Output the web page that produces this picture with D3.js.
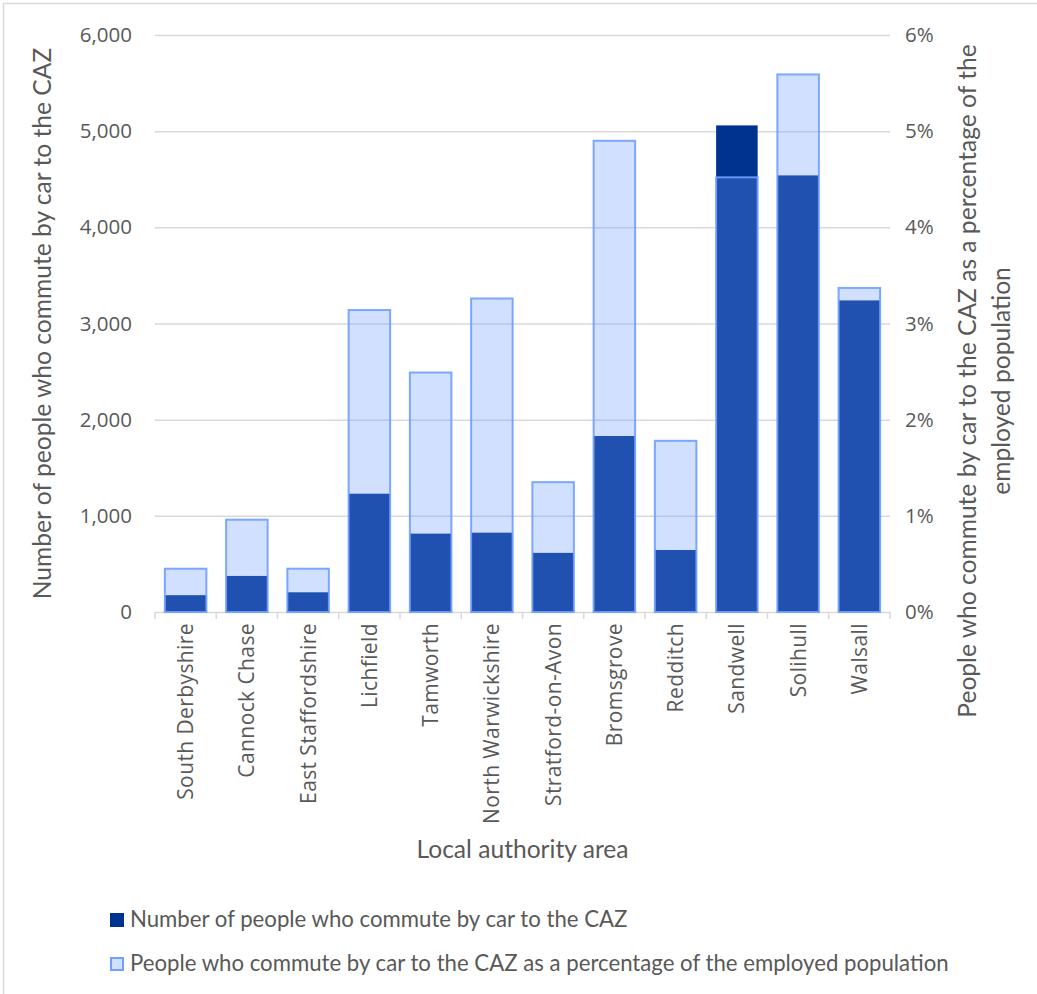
<!DOCTYPE html>
<html>
<head>
<meta charset="utf-8">
<script src="https://cdn.jsdelivr.net/npm/d3@7/dist/d3.min.js"></script>
<style>
  html, body { margin: 0; padding: 0; background: #fff; }
  svg { display: block; }
</style>
</head>
<body>
<svg id="chart" width="1037" height="994"></svg>
<script>
// Local authority areas (x categories)
const categories = [
  "South Derbyshire", "Cannock Chase", "East Staffordshire", "Lichfield",
  "Tamworth", "North Warwickshire", "Stratford-on-Avon", "Bromsgrove",
  "Redditch", "Sandwell", "Solihull", "Walsall"
];
// Number of people who commute by car to the CAZ (left axis)
const commuters = [175, 375, 205, 1230, 815, 825, 615, 1830, 645, 5060, 4540, 3240];
// Share of the employed population commuting by car to the CAZ (right axis)
const shareOfEmployed = [0.0045, 0.0096, 0.0045, 0.0314, 0.0249, 0.0326, 0.0135, 0.0490, 0.0178, 0.0452, 0.0559, 0.0337];
// Axis ticks
const leftTicks = [0, 1000, 2000, 3000, 4000, 5000, 6000];
const rightTicks = [0, 0.01, 0.02, 0.03, 0.04, 0.05, 0.06];

const seriesNames = [
  "Number of people who commute by car to the CAZ",
  "People who commute by car to the CAZ as a percentage of the employed population"
];

const svg = d3.select("#chart");
const textColor = "#595959";
const gridColor = "#d9d9d9";
const navy = "#00338f";
const lightFill = "rgb(105,152,255)";
const lightStroke = "#6f9fff";
const tickFont = "Open Sans";
const tickSize = 20.5;
const titleFont = "Lato";

const plot = { left: 155, right: 890, top: 35, bottom: 612 };

// chart frame
svg.append("rect")
  .attr("x", 3.5).attr("y", 3.5)
  .attr("width", 1200).attr("height", 1200)
  .attr("fill", "none").attr("stroke", gridColor).attr("stroke-width", 1.5);

const x = d3.scaleBand()
  .domain(categories)
  .range([plot.left, plot.right])
  .paddingInner(0.322)
  .paddingOuter(0.161);

const yLeft = d3.scaleLinear().domain([0, 6000]).range([plot.bottom, plot.top]);
const yRight = d3.scaleLinear().domain([0, 0.06]).range([plot.bottom, plot.top]);

// horizontal gridlines
svg.append("g")
  .selectAll("line")
  .data(leftTicks.filter(d => d > 0))
  .join("line")
  .attr("x1", plot.left).attr("x2", plot.right)
  .attr("y1", d => yLeft(d) + 0.5).attr("y2", d => yLeft(d) + 0.5)
  .attr("stroke", gridColor).attr("stroke-width", 1.5);

// left axis labels
const leftAxis = d3.axisLeft(yLeft)
  .tickValues(leftTicks)
  .tickSize(0)
  .tickPadding(23)
  .tickFormat(d3.format(","));
svg.append("g")
  .attr("transform", `translate(${plot.left},0)`)
  .call(leftAxis)
  .attr("font-family", tickFont)
  .attr("font-size", tickSize)
  .call(g => g.select(".domain").remove())
  .call(g => g.selectAll("text").attr("fill", textColor));

// right axis labels
const rightAxis = d3.axisRight(yRight)
  .tickValues(rightTicks)
  .tickSize(0)
  .tickPadding(15)
  .tickFormat(d3.format(".0%"));
svg.append("g")
  .attr("transform", `translate(${plot.right},0)`)
  .call(rightAxis)
  .attr("font-family", tickFont)
  .attr("font-size", tickSize)
  .call(g => g.select(".domain").remove())
  .call(g => g.selectAll("text").attr("fill", textColor));

// x axis: baseline with boundary ticks between categories
const xAxisG = svg.append("g");
xAxisG.append("line")
  .attr("x1", plot.left).attr("x2", plot.right)
  .attr("y1", plot.bottom + 0.5).attr("y2", plot.bottom + 0.5)
  .attr("stroke", gridColor).attr("stroke-width", 1.5);
const boundaries = d3.range(categories.length + 1).map(i => plot.left + i * x.step());
xAxisG.selectAll("line.tick")
  .data(boundaries)
  .join("line")
  .attr("class", "tick")
  .attr("x1", d => d).attr("x2", d => d)
  .attr("y1", plot.bottom).attr("y2", plot.bottom + 7)
  .attr("stroke", gridColor).attr("stroke-width", 1.5);
xAxisG.selectAll("text")
  .data(categories)
  .join("text")
  .attr("transform", d => `translate(${x(d) + x.bandwidth() / 2 + 7.5},${plot.bottom + 11}) rotate(-90)`)
  .attr("text-anchor", "end")
  .attr("fill", textColor)
  .attr("font-family", tickFont)
  .attr("font-size", 21)
  .attr("letter-spacing", 0.4)
  .text(d => d);

// commuter count bars (left axis)
svg.append("g")
  .selectAll("rect")
  .data(categories)
  .join("rect")
  .attr("x", d => x(d))
  .attr("width", x.bandwidth())
  .attr("y", (d, i) => yLeft(commuters[i]))
  .attr("height", (d, i) => yLeft(0) - yLeft(commuters[i]))
  .attr("fill", navy);

// percentage bars (right axis), translucent over the counts
svg.append("g")
  .selectAll("rect")
  .data(categories)
  .join("rect")
  .attr("x", d => x(d))
  .attr("width", x.bandwidth())
  .attr("y", (d, i) => yRight(shareOfEmployed[i]))
  .attr("height", (d, i) => yRight(0) - yRight(shareOfEmployed[i]))
  .attr("fill", lightFill)
  .attr("fill-opacity", 0.3)
  .attr("stroke", lightStroke)
  .attr("stroke-opacity", 0.9)
  .attr("stroke-width", 2);

// axis titles
svg.append("text")
  .attr("transform", `translate(51,${(plot.top + plot.bottom) / 2}) rotate(-90)`)
  .attr("text-anchor", "middle")
  .attr("fill", textColor)
  .attr("font-family", titleFont)
  .attr("font-size", 24.6)
  .text(seriesNames[0]);

const rightTitle = svg.append("text")
  .attr("transform", `translate(976,381) rotate(-90)`)
  .attr("text-anchor", "middle")
  .attr("fill", textColor)
  .attr("font-family", titleFont)
  .attr("font-size", 24.6);
rightTitle.append("tspan").attr("x", 0).attr("dy", 0)
  .text("People who commute by car to the CAZ as a percentage of the");
rightTitle.append("tspan").attr("x", 0).attr("dy", 34)
  .text("employed population");

svg.append("text")
  .attr("x", (plot.left + plot.right) / 2)
  .attr("y", 858)
  .attr("text-anchor", "middle")
  .attr("fill", textColor)
  .attr("font-family", titleFont)
  .attr("font-size", 24.6)
  .text("Local authority area");

// legend
const legend = svg.append("g");
const legendItems = [
  { name: seriesNames[0], y: 913, fill: navy, fillOpacity: 1, stroke: "none" },
  { name: seriesNames[1], y: 957, fill: lightFill, fillOpacity: 0.3, stroke: lightStroke }
];
legendItems.forEach(item => {
  const solid = item.stroke === "none";
  legend.append("rect")
    .attr("x", solid ? 110 : 111)
    .attr("y", solid ? item.y : item.y + 1)
    .attr("width", solid ? 14 : 12)
    .attr("height", solid ? 14 : 12)
    .attr("fill", item.fill)
    .attr("fill-opacity", item.fillOpacity)
    .attr("stroke", item.stroke)
    .attr("stroke-width", 2);
  legend.append("text")
    .attr("x", 130)
    .attr("y", item.y + 14)
    .attr("fill", textColor)
    .attr("font-family", titleFont)
    .attr("font-size", 22.2)
    .text(item.name);
});
</script>
</body>
</html>
